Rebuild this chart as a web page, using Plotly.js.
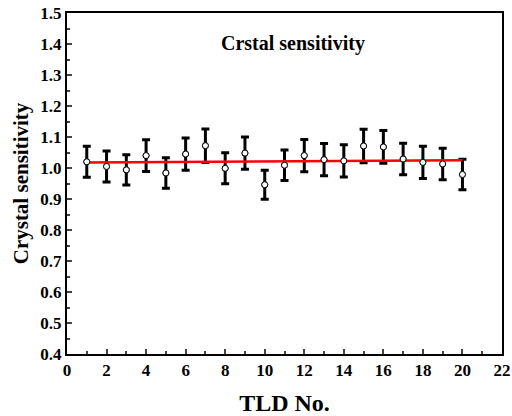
<!DOCTYPE html>
<html><head><meta charset="utf-8">
<script src="https://cdn.plot.ly/plotly-3.0.1.min.js"></script>
<style>html,body{margin:0;padding:0;background:#fff}#c{width:512px;height:416px}</style>
</head><body><div id="c"></div>
<script>
const tld = [1,2,3,4,5,6,7,8,9,10,11,12,13,14,15,16,17,18,19,20];
const sensitivity = [1.020,1.005,0.994,1.040,0.984,1.045,1.072,0.999,1.048,0.946,1.009,1.040,1.027,1.023,1.071,1.068,1.029,1.018,1.013,0.979];
const errors = [0.050,0.050,0.049,0.051,0.049,0.052,0.054,0.050,0.052,0.047,0.049,0.052,0.052,0.052,0.054,0.053,0.051,0.052,0.051,0.049];
const fitX = [1,20];
const fitY = [1.018,1.025];
const yTicks = [0.4,0.5,0.6,0.7,0.8,0.9,1.0,1.1,1.2,1.3,1.4,1.5];
const yTickText = ['0.4','0.5','0.6','0.7','0.8','0.9','1.0','1.1','1.2','1.3','1.4','1.5'];
const xTicks = [0,2,4,6,8,10,12,14,16,18,20,22];

const serif = 'Liberation Serif, Times New Roman, serif';
const traces = [
  {x: tld, y: sensitivity, type:'scatter', mode:'markers',
   marker:{size:6, color:'#fff', line:{color:'#000', width:1}},
   error_y:{type:'data', array: errors, visible:true, color:'#000', thickness:3, width:4},
   showlegend:false, hoverinfo:'skip'},
  {x: fitX, y: fitY, type:'scatter', mode:'lines', line:{color:'#ff0000', width:2.5}, showlegend:false},
  {x: tld, y: sensitivity, type:'scatter', mode:'markers',
   marker:{size:6, color:'#fff', line:{color:'#000', width:1}}, showlegend:false}
];
const layout = {
  width:512, height:416,
  margin:{l:67, r:10, t:13, b:62},
  paper_bgcolor:'#fff', plot_bgcolor:'#fff',
  font:{family:serif, color:'#000'},
  xaxis:{range:[0,22], tickvals:xTicks, ticktext:xTicks.map(String), ticks:'inside', ticklen:5, tickwidth:2,
    minor:{dtick:1, tick0:0, ticks:'inside', ticklen:3, tickwidth:2},
    showline:true, linewidth:2, linecolor:'#000', mirror:true, showgrid:false, zeroline:false,
    tickfont:{family:serif, size:17, weight:'bold'},
    title:{text:'<b>TLD No.</b>', font:{family:serif, size:24}, standoff:15}},
  yaxis:{range:[0.4,1.5], tickvals:yTicks, ticktext:yTickText, ticks:'inside', ticklen:5, tickwidth:2,
    minor:{dtick:0.05, tick0:0.4, ticks:'inside', ticklen:3, tickwidth:2},
    showline:true, linewidth:2, linecolor:'#000', mirror:true, showgrid:false, zeroline:false,
    tickfont:{family:serif, size:17, weight:'bold'},
    title:{text:'<b>Crystal sensitivity</b>', font:{family:serif, size:21}, standoff:6}},
  annotations:[{text:'<b>Crstal sensitivity</b>', xref:'paper', yref:'paper', x:0.52, y:0.912, showarrow:false,
    font:{family:serif, size:20, color:'#000'}, xanchor:'center', yanchor:'middle'}]
};
Plotly.newPlot('c', traces, layout, {displayModeBar:false, staticPlot:true});
</script></body></html>
